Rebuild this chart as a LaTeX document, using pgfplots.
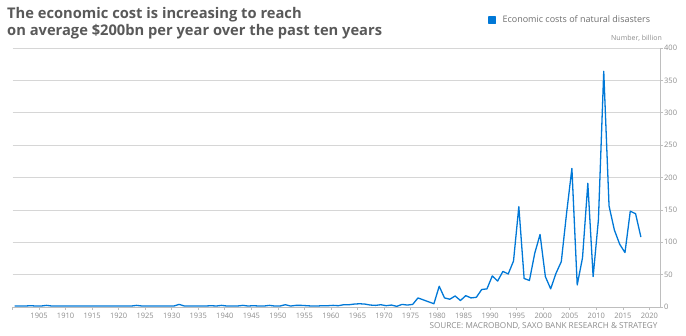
\documentclass[border=0pt]{standalone}
\usepackage{fontspec}
\setmainfont{Open Sans}
\usepackage{pgfplots}
\pgfplotsset{compat=1.18}
\usepackage{pgfplotstable}

\definecolor{lineblue}{RGB}{0,120,215}
\definecolor{gridgray}{RGB}{214,214,214}
\definecolor{axisgray}{RGB}{190,190,190}
\definecolor{labelgray}{RGB}{140,140,140}
\definecolor{titlegray}{RGB}{89,89,89}
\definecolor{legendgray}{RGB}{110,110,110}

\pgfplotstableread{
year value
1900 1.5
1901 1.5
1902 1.5
1903 2
1904 1.5
1905 1.5
1906 2.5
1907 1.5
1908 1.5
1909 1.5
1910 1.5
1911 1.5
1912 1.5
1913 1.5
1914 1.5
1915 1.5
1916 1.5
1917 1.5
1918 1.5
1919 1.5
1920 1.5
1921 1.5
1922 1.5
1923 2.5
1924 1.5
1925 1.5
1926 1.5
1927 1.5
1928 1.5
1929 1.5
1930 1.5
1931 4
1932 1.5
1933 1.5
1934 1.5
1935 1.5
1936 1.5
1937 2
1938 1.5
1939 2.5
1940 1.5
1941 1.5
1942 1.5
1943 2.5
1944 1.5
1945 2
1946 1.5
1947 1.5
1948 2.5
1949 1.5
1950 1.5
1951 3.5
1952 1.5
1953 2.5
1954 2.5
1955 2
1956 1.5
1957 1.5
1958 2
1959 2
1960 2.5
1961 2
1962 3.5
1963 3.5
1964 4.5
1965 5
1966 4.5
1967 3
1968 2.5
1969 3.5
1970 2
1971 3
1972 1
1973 4
1974 3
1975 4
1976 14
1977 11
1978 8
1979 5
1980 32
1981 14
1982 12
1983 17
1984 10
1985 17.5
1986 14
1987 15
1988 27
1989 28
1990 48
1991 40
1992 55
1993 51
1994 71
1995 155
1996 44
1997 41
1998 83
1999 112
2000 47
2001 28
2002 52
2003 70
2004 145
2005 214
2006 34
2007 76
2008 191
2009 47
2010 135
2011 364
2012 156
2013 119
2014 97
2015 84
2016 148
2017 144
2018 108
}\costs

\begin{document}
\begin{tikzpicture}
\useasboundingbox (0pt,0pt) rectangle (686pt,336pt);
\begin{axis}[
  at={(12.5pt,29pt)}, anchor=south west,
  scale only axis, width=647.5pt, height=259pt,
  xmin=1900, xmax=2022, ymin=0, ymax=400,
  axis y line*=right, axis x line*=bottom,
  xtick={1905,1910,...,2020},
  extra x ticks={1900}, extra x tick labels={},
  ytick={0,50,...,400},
  ymajorgrids, grid style={color=gridgray, line width=0.7pt},
  tick align=outside, major tick length=3pt,
  tick style={color=axisgray, line width=0.6pt},
  axis line style={color=axisgray, line width=0.7pt},
  /pgf/number format/assume math mode=true,
  /pgf/number format/1000 sep={},
  ticklabel style={font=\fontsize{7.5}{9}\selectfont, text=labelgray},
  xticklabel style={anchor=base, yshift=-9pt},
  yticklabel style={anchor=west, inner xsep=0pt, xshift=1pt},
  legend style={at={(0.7344,1.107)}, anchor=west, draw=none, fill=none,
    inner sep=0pt, nodes={inner sep=0pt},
    /tikz/every odd column/.append style={column sep=6.5pt},
    font=\fontsize{9}{11}\selectfont, text=legendgray},
  legend cell align=left,
  legend image code/.code={\fill[lineblue] (0pt,-3.25pt) rectangle (6.5pt,3.25pt);},
  clip=false,
]
\addplot[lineblue, line width=1.3pt, line join=round] table[x expr=\thisrow{year}+0.4, y=value] {\costs};
\addlegendentry{Economic costs of natural disasters}
\end{axis}
\node[anchor=base west, inner sep=0pt, font=\bfseries\fontsize{14.7}{17}\selectfont, text=titlegray] at (7pt,317pt) {The economic cost is increasing to reach};
\node[anchor=base west, inner sep=0pt, font=\bfseries\fontsize{14.7}{17}\selectfont, text=titlegray] at (7pt,300.3pt) {on average \$200bn per year over the past ten years};
\node[anchor=base east, inner sep=0pt, font=\fontsize{7}{8}\selectfont, text=labelgray] at (662pt,295.3pt) {Number, billion};
\node[anchor=base east, inner sep=0pt, font=\fontsize{8.2}{10}\selectfont, text=labelgray] at (657.7pt,7.3pt) {SOURCE: MACROBOND, SAXO BANK RESEARCH \& STRATEGY};
\end{tikzpicture}
\end{document}
